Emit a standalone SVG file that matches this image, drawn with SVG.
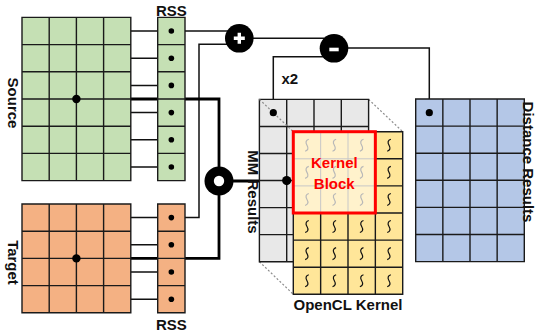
<svg xmlns="http://www.w3.org/2000/svg" width="536" height="333" viewBox="0 0 536 333">
<style>
.lbl{font-family:"Liberation Sans",Arial,sans-serif;font-weight:bold;font-size:15px;fill:#111}
.grid{fill:none;stroke:#1a1a1a;stroke-width:1.4}
.thin{fill:none;stroke:#111;stroke-width:1.5}
.thick{fill:none;stroke:#000;stroke-width:2.8}
.dot{fill:#000}
.sq{fill:none;stroke:#111;stroke-width:1.2}
.sql{fill:none;stroke:#b8b8b8;stroke-width:1.2}
.dash{stroke:#8c8c8c;stroke-width:1.2;stroke-dasharray:2 2;fill:none}
</style>
<defs>
<path id="sq" d="M1.8,-6 Q-2.6,-4.5 0,0 Q2.6,4.5 -1.8,6"/>
</defs>
<rect width="536" height="333" fill="#fff"/>

<!-- connectors -->
<g id="connectors">
<path class="thin" d="M130.8,31H239 M130.8,58.2H171.35 M130.8,85.4H171.35 M130.8,112.6H171.35 M130.8,139.8H171.35 M130.8,167H171.35"/>
<path class="thin" d="M130.8,217.6H199V44.3H230 M130.8,244.8H171.35 M130.8,272H171.35 M130.8,299.2H171.35"/>
<path class="thin" d="M239.3,38.3H334"/>
<path class="thin" d="M334,48H429.3V112.7"/>
<path class="thin" d="M273.3,112.7V56.7H330"/>
<path class="thick" d="M76.4,99H219V181 M76.4,258.4H219V181 M219,181H286.7"/>
<path class="dash" d="M259.4,99.4L293.3,131.7 M368.6,99.4L402.7,131.7 M259.4,261.7L293.3,294.3"/>
</g>

<!-- Source -->
<g id="source">
<rect x="22" y="17.4" width="108.8" height="163.2" fill="#C5E0B4"/>
<path class="grid" d="M22,17.4h108.8v163.2h-108.8z M49.2,17.4V180.6 M76.4,17.4V180.6 M103.6,17.4V180.6 M22,44.6H130.8 M22,71.8H130.8 M22,99H130.8 M22,126.2H130.8 M22,153.4H130.8"/>
<text class="lbl" transform="translate(8,103) rotate(90)" text-anchor="middle">Source</text>
</g>
<g id="source-rss">
<rect x="157.7" y="17.4" width="27.3" height="163.2" fill="#C5E0B4"/>
<path class="grid" d="M157.7,17.4h27.3v163.2h-27.3z M157.7,44.6H185 M157.7,71.8H185 M157.7,99H185 M157.7,126.2H185 M157.7,153.4H185"/>
<text class="lbl" x="171.3" y="15.5" text-anchor="middle" font-size="14">RSS</text>
</g>

<!-- Target -->
<g id="target">
<rect x="22" y="204" width="108.8" height="108.8" fill="#F4B183"/>
<path class="grid" d="M22,204h108.8v108.8h-108.8z M49.2,204V312.8 M76.4,204V312.8 M103.6,204V312.8 M22,231.2H130.8 M22,258.4H130.8 M22,285.6H130.8"/>
<text class="lbl" transform="translate(8,262.5) rotate(90)" text-anchor="middle">Target</text>
</g>
<g id="target-rss">
<rect x="157.7" y="204" width="27.3" height="108.8" fill="#F4B183"/>
<path class="grid" d="M157.7,204h27.3v108.8h-27.3z M157.7,231.2H185 M157.7,258.4H185 M157.7,285.6H185"/>
<text class="lbl" x="171.3" y="329.5" text-anchor="middle" font-size="14">RSS</text>
</g>

<!-- RSS dots -->
<g id="rss-dots">
<circle class="dot" cx="171.35" cy="31" r="2.8"/>
<circle class="dot" cx="171.35" cy="58.2" r="2.8"/>
<circle class="dot" cx="171.35" cy="85.4" r="2.8"/>
<circle class="dot" cx="171.35" cy="112.6" r="2.8"/>
<circle class="dot" cx="171.35" cy="139.8" r="2.8"/>
<circle class="dot" cx="171.35" cy="167" r="2.8"/>
<circle class="dot" cx="171.35" cy="217.6" r="2.8"/>
<circle class="dot" cx="171.35" cy="244.8" r="2.8"/>
<circle class="dot" cx="171.35" cy="272" r="2.8"/>
<circle class="dot" cx="171.35" cy="299.2" r="2.8"/>
<circle class="dot" cx="76.4" cy="99" r="4.2"/>
<circle class="dot" cx="76.4" cy="258.4" r="4.2"/>
</g>

<!-- MM Results -->
<g id="mm-results">
<rect x="259.4" y="99.4" width="109.2" height="162.3" fill="#E8E8E8"/>
<path class="grid" d="M259.4,99.4h109.2v162.3h-109.2z M286.7,99.4V261.7 M314,99.4V261.7 M341.3,99.4V261.7 M259.4,126.45H368.6 M259.4,153.5H368.6 M259.4,180.55H368.6 M259.4,207.6H368.6 M259.4,234.65H368.6"/>
<path class="dash" d="M259.4,99.4L293.3,131.7"/>
<text class="lbl" transform="translate(247.5,192) rotate(90)" text-anchor="middle" font-size="15.5">MM Results</text>
</g>

<!-- OpenCL Kernel -->
<g id="opencl-kernel">
<rect x="293.3" y="131.7" width="109.4" height="162.6" fill="#FFE699"/>
<rect x="293.3" y="131.7" width="82.05" height="81.3" fill="#FFF2CC"/>
<path class="grid" d="M293.3,131.7h109.4v162.6h-109.4z M375.35,131.7V294.3 M320.65,213V294.3 M348,213V294.3 M375.35,158.8H402.7 M375.35,185.9H402.7 M293.3,213H402.7 M293.3,240.1H402.7 M293.3,267.2H402.7"/>
<path fill="none" stroke="#c8c8c8" stroke-width="1" d="M320.65,131.7V213 M348,131.7V213 M293.3,158.8H375.35 M293.3,185.9H375.35"/>
<g class="sql">
<use href="#sq" x="306.98" y="145.25"/><use href="#sq" x="334.33" y="145.25"/><use href="#sq" x="361.68" y="145.25"/>
<use href="#sq" x="306.98" y="172.35"/><use href="#sq" x="334.33" y="172.35"/><use href="#sq" x="361.68" y="172.35"/>
<use href="#sq" x="306.98" y="199.45"/><use href="#sq" x="334.33" y="199.45"/><use href="#sq" x="361.68" y="199.45"/>
</g>
<g class="sq">
<use href="#sq" x="389.03" y="145.25"/><use href="#sq" x="389.03" y="172.35"/><use href="#sq" x="389.03" y="199.45"/>
<use href="#sq" x="306.98" y="226.55"/><use href="#sq" x="334.33" y="226.55"/><use href="#sq" x="361.68" y="226.55"/><use href="#sq" x="389.03" y="226.55"/>
<use href="#sq" x="306.98" y="253.65"/><use href="#sq" x="334.33" y="253.65"/><use href="#sq" x="361.68" y="253.65"/><use href="#sq" x="389.03" y="253.65"/>
<use href="#sq" x="306.98" y="280.75"/><use href="#sq" x="334.33" y="280.75"/><use href="#sq" x="361.68" y="280.75"/><use href="#sq" x="389.03" y="280.75"/>
</g>
<text class="lbl" x="348" y="310" text-anchor="middle">OpenCL Kernel</text>
</g>

<!-- Kernel Block -->
<g id="kernel-block">
<rect x="293.3" y="131.7" width="82.05" height="81.3" fill="none" stroke="#FF0000" stroke-width="3"/>
<text class="lbl" x="334.3" y="168" text-anchor="middle" font-size="16" style="fill:#FF0000">Kernel</text>
<text class="lbl" x="334.3" y="189" text-anchor="middle" font-size="16" style="fill:#FF0000">Block</text>
</g>

<!-- Distance Results -->
<g id="distance-results">
<rect x="415.7" y="99" width="108.6" height="162.6" fill="#B4C7E7"/>
<path class="grid" d="M415.7,99h108.6v162.6h-108.6z M442.85,99V261.6 M470,99V261.6 M497.15,99V261.6 M415.7,126.1H524.3 M415.7,153.2H524.3 M415.7,180.3H524.3 M415.7,207.4H524.3 M415.7,234.5H524.3"/>
<text class="lbl" transform="translate(523,162) rotate(90)" text-anchor="middle">Distance Results</text>
</g>

<!-- operators -->
<g id="plus">
<circle cx="239.3" cy="38.3" r="14.3" fill="#000"/>
<path d="M239.3,32.8V43.8 M233.8,38.3H244.8" stroke="#fff" stroke-width="3.4"/>
</g>
<g id="minus">
<circle cx="334" cy="48.3" r="14.3" fill="#000"/>
<path d="M329.3,49.5H338.7" stroke="#fff" stroke-width="3.6"/>
</g>
<g id="multiply">
<circle cx="219" cy="181" r="14.5" fill="#000"/>
<circle cx="219" cy="181" r="5.2" fill="#fff"/>
</g>
<g id="end-dots">
<circle class="dot" cx="286.7" cy="180.6" r="4.6"/>
<circle class="dot" cx="273.3" cy="112.7" r="3.6"/>
<circle class="dot" cx="429.3" cy="112.7" r="3.6"/>
</g>
<text class="lbl" x="281.5" y="84" font-size="14">x2</text>
</svg>
